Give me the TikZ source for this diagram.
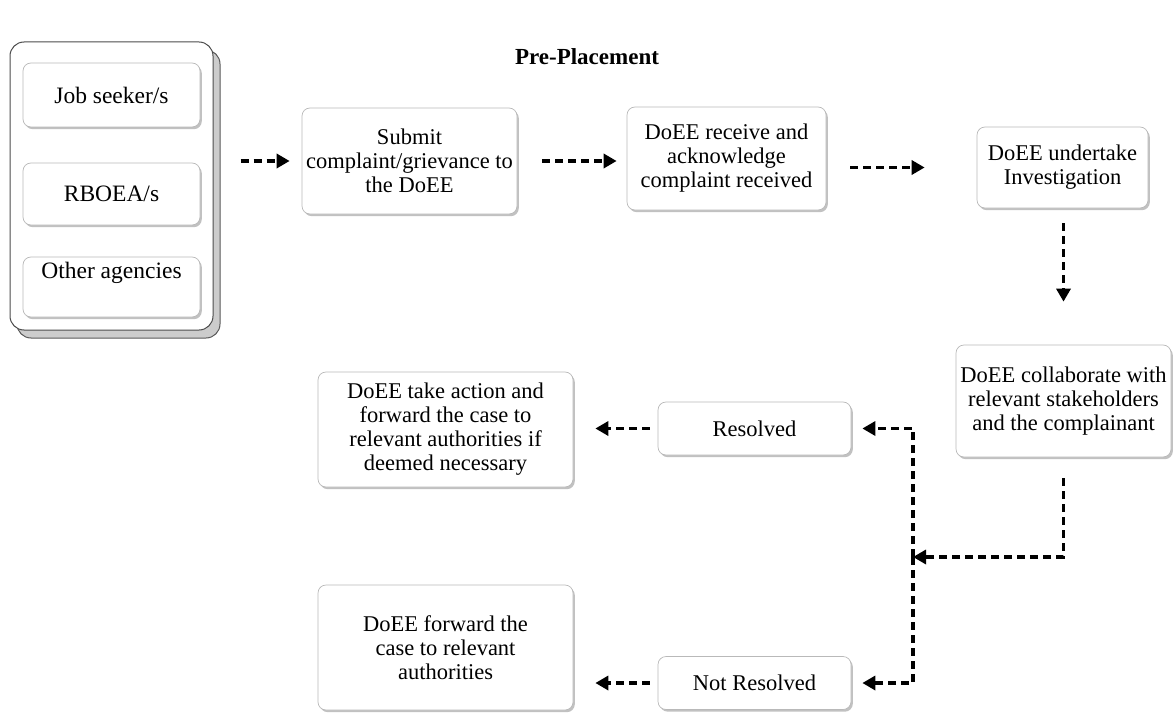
\documentclass[tikz,border=0pt]{standalone}
\usepackage{fontspec}
\setmainfont{Liberation Serif}
\usetikzlibrary{arrows.meta,shadows}
\begin{document}
\begin{tikzpicture}[x=1pt,y=-1pt,
  box/.style={draw=gray!55, line width=0.7pt, fill=white, rounded corners=8pt,
    align=center, inner sep=0pt, font=\fontsize{22.5}{24}\selectfont,
    drop shadow={shadow xshift=1.8pt, shadow yshift=-2.2pt, fill=gray!60, opacity=0.8}},
  subbox/.style={box, minimum width=177pt, font=\fontsize{23.5}{25}\selectfont},
  group/.style={draw=black!70, line width=1pt, fill=white, rounded corners=14pt,
    minimum width=203pt, minimum height=288pt,
    drop shadow={shadow xshift=7pt, shadow yshift=-8pt, fill=gray!40, draw=black!65, line width=1pt, opacity=1}},
  arr/.style={line width=3.8pt, dash pattern=on 8pt off 5pt, -{Triangle[length=13pt,width=14pt]}},
]
\useasboundingbox (0,0) rectangle (1174,714);

\node[font=\bfseries\fontsize{23}{26}\selectfont] (title) at (587,57) {Pre-Placement};

\node[group] (grp) at (111.5,186) {};
\node[subbox, minimum height=64pt] (job) at (111.5,95) {Job seeker/s};
\node[subbox, minimum height=62pt] (rbo) at (111.5,194) {RBOEA/s};
\node[subbox, minimum height=60pt] (oth) at (111.5,287) {Other agencies\\\strut};

\node[box, minimum width=215pt, minimum height=106pt] (submit) at (409.5,161) {Submit\\complaint/grievance to\\the DoEE};
\node[box, minimum width=199pt, minimum height=103pt] (recv) at (726.5,158.5) {DoEE receive and\\acknowledge\\complaint received};
\node[box, minimum width=171pt, minimum height=81pt] (inv) at (1062.5,167.5) {DoEE undertake\\Investigation};
\node[box, minimum width=215pt, minimum height=112pt] (coll) at (1063.5,401) {DoEE collaborate with\\relevant stakeholders\\and the complainant};

\node[box, minimum width=255pt, minimum height=115pt] (act) at (445.5,429.5) {DoEE take action and\\forward the case to\\relevant authorities if\\deemed necessary};
\node[box, minimum width=193pt, minimum height=53pt] (res) at (754.5,428.5) {Resolved};
\node[box, minimum width=255pt, minimum height=125pt] (fwd) at (445.5,647.5) {DoEE forward the\\case to relevant\\authorities};
\node[box, minimum width=193pt, minimum height=53pt] (nres) at (754.5,683) {Not Resolved};

\coordinate (j) at (913,557);

\draw[arr, shorten <=27pt, shorten >=12pt] (grp.east |- submit.west) -- (submit.west);
\draw[arr, shorten <=25pt, shorten >=10pt] (submit.east) -- (recv.west |- submit.east);
\draw[arr, shorten <=24pt, shorten >=52pt] (recv.east |- inv.west) -- (inv.west);
\draw[arr, shorten <=15pt, shorten >=43pt] (inv.south -| coll.north) -- (coll.north);
\draw[arr] ([yshift=-21pt]coll.south) |- (j);
\draw[arr] (j) |- ([xshift=11pt]res.east);
\draw[arr] (j) |- ([xshift=11pt]nres.east);
\draw[arr, shorten <=8pt, shorten >=22pt] (res.west) -- (res.west -| act.east);
\draw[arr, shorten <=8pt, shorten >=22pt] (nres.west) -- (nres.west -| act.east);
\end{tikzpicture}
\end{document}
